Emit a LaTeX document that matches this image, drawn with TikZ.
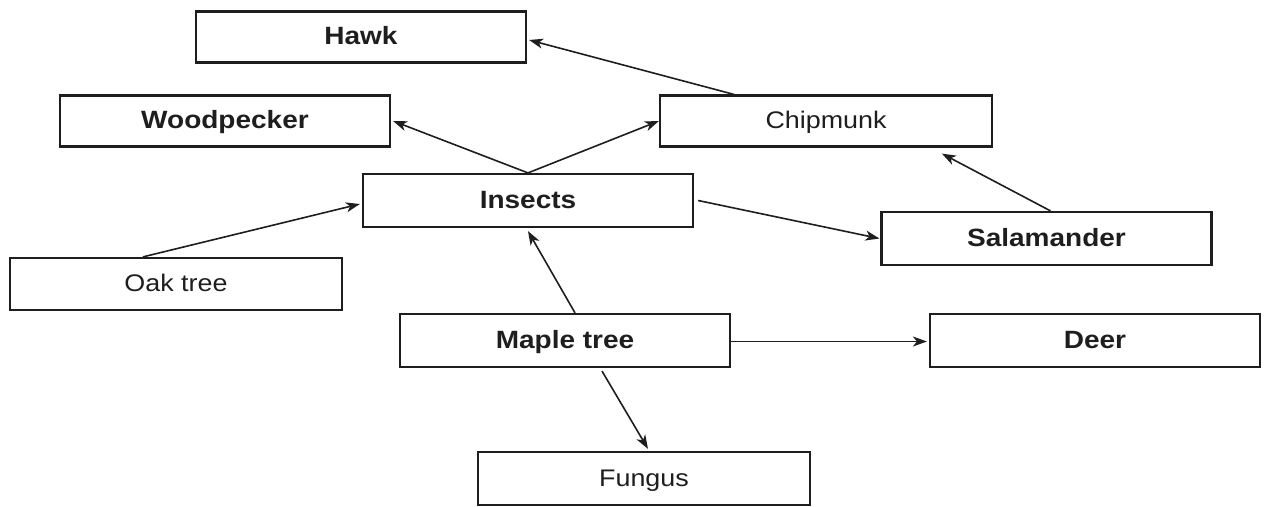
\documentclass[tikz,border=0pt]{standalone}
\usepackage{fontspec}
\setmainfont{Liberation Sans}[FakeStretch=1.12]
\usetikzlibrary{arrows.meta}
\definecolor{ink}{HTML}{1E1E1E}
\begin{document}
\begin{tikzpicture}[x=1pt,y=-1pt,
  box/.style={draw=ink,text=ink,line width=2.2pt,rectangle,minimum width=330pt,minimum height=51pt,inner sep=0pt,text height=18pt,text depth=3pt,font=\fontsize{24}{28}\selectfont},
  bbox/.style={box,font=\fontsize{25}{29}\selectfont\bfseries},
  arr/.style={line width=1.6pt,draw=ink,-{Stealth[length=14pt,width=10pt,inset=4pt]}}]
\useasboundingbox (0,0) rectangle (1269,506);
\node[bbox] (hawk) at (361,37) {Hawk};
\node[bbox] (wood) at (225,121) {Woodpecker};
\node[box,minimum width=332pt] (chip) at (826,121) {Chipmunk};
\node[bbox,minimum height=53pt] (ins) at (528,200.5) {Insects};
\node[bbox,minimum height=53pt] (sal) at (1046.5,238.5) {Salamander};
\node[box,minimum width=332pt,minimum height=52pt] (oak) at (176,284) {Oak tree};
\node[bbox,minimum height=53pt] (maple) at (565,340.5) {Maple tree};
\node[bbox,minimum height=53pt] (deer) at (1095,340.5) {Deer};
\node[box,minimum width=332pt,minimum height=53pt] (fungus) at (644,478.5) {Fungus};
\draw[arr] ([xshift=75pt]chip.north west) -- ([xshift=2pt,yshift=-3pt]hawk.east);
\draw[arr] (ins.north) -- ([xshift=2pt]wood.east);
\draw[arr] (ins.north) -- (chip.west);
\draw[arr] ([xshift=134pt]oak.north west) -- ([xshift=-2pt,yshift=-3.5pt]ins.west);
\draw[arr] ([xshift=4pt]ins.east) -- ([xshift=-1pt]sal.west);
\draw[arr] ([xshift=4pt]sal.north) -- ([xshift=283pt,yshift=-6pt]chip.south west);
\draw[arr] ([xshift=10pt]maple.north) -- ([yshift=-3pt]ins.south);
\draw[arr] ([yshift=-1pt]maple.east) -- ([xshift=-2pt,yshift=-1pt]deer.west);
\draw[arr] ([xshift=37pt,yshift=-3pt]maple.south) -- ([xshift=4pt,yshift=2pt]fungus.north);
\end{tikzpicture}
\end{document}
